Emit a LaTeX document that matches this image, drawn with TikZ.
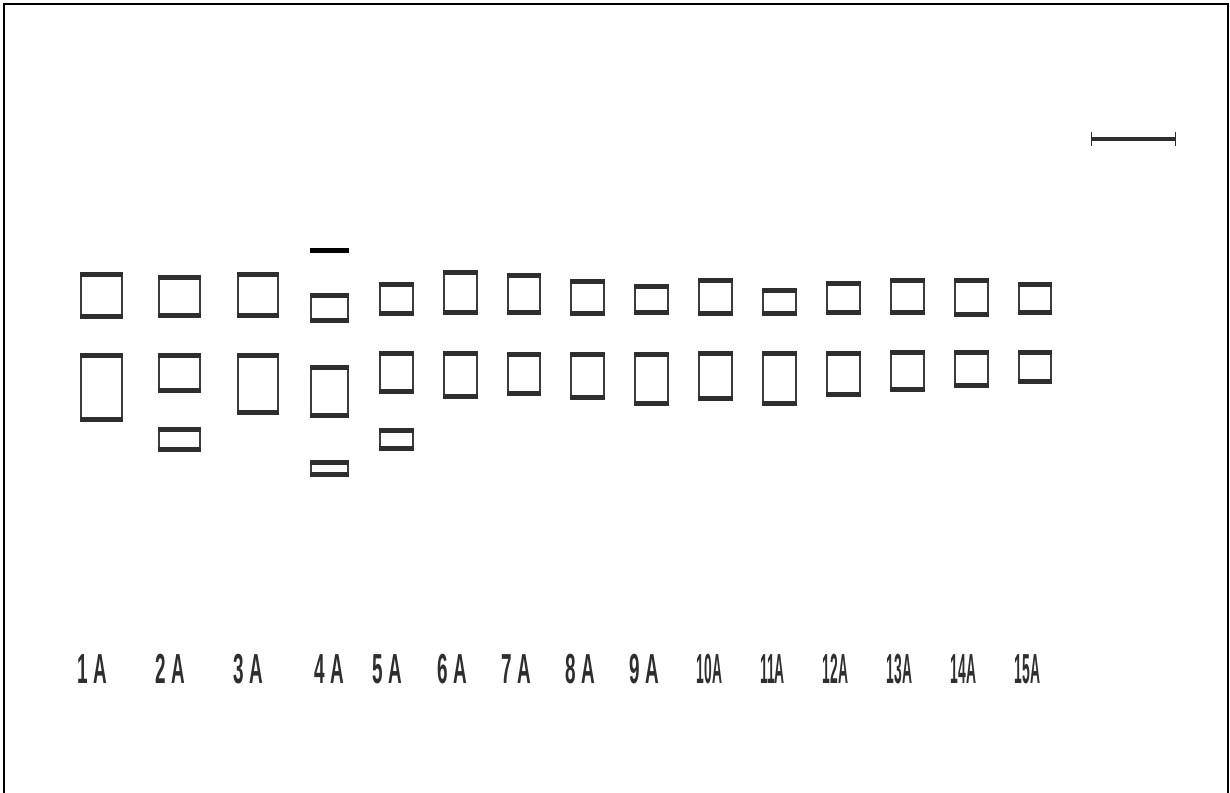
\documentclass[tikz,border=0pt]{standalone}
\usepackage{fontspec}
\setmainfont{Liberation Sans}
\usepackage{tikz}
\usepackage{xcolor}
\definecolor{gelink}{HTML}{2E2E2E}
\definecolor{gelside}{HTML}{3C3C3C}
\newcommand{\lanefont}{\fontsize{42}{42}\selectfont\bfseries}
% one band: outer box x1,y1,x2,y2 (pixels, y down)
\newcommand{\gelband}[4]{%
    \draw[bandside] (#1+1.2,#2+2.3) rectangle (#3-1.2,#4-2.3);
    \draw[bandedge] (#1,#2+2.3) -- (#3,#2+2.3);
    \draw[bandedge] (#1,#4-2.3) -- (#3,#4-2.3);
}

\begin{document}
\begin{tikzpicture}[x=1pt, y=-1pt,
    bandside/.style={draw=gelside, line width=2.2pt},
    bandedge/.style={draw=gelink, line width=4.6pt},
    lanelabel/.style={font=\lanefont, text=gelink, inner sep=0pt, xscale=0.45},
    lanelabelw/.style={font=\lanefont, text=gelink, inner sep=0pt, xscale=0.33}]
    \useasboundingbox (0,0) rectangle (1230,792);

    % Outer frame
    \draw[line width=2.5pt, black] (4,795) -- (4,4) -- (1228,4) -- (1228,795);

    % Scale bar
    \draw[line width=3.2pt, gelink] (1091,139) -- (1175,139);
    \draw[line width=1pt, gelink] (1091,132) -- (1091,146);
    \draw[line width=1pt, gelink] (1175,132) -- (1175,146);

    % Lane 1
    \gelband{80}{272}{123}{319}
    \gelband{80}{353}{123}{422}
    % Lane 2
    \gelband{158}{275}{201}{318}
    \gelband{158}{353}{201}{393}
    \gelband{158}{427}{201}{452}
    % Lane 3
    \gelband{237}{272}{279}{318}
    \gelband{237}{353}{279}{415}
    % Lane 4
    \draw[line width=5pt, black] (310,250) -- (349,250);
    \gelband{310}{293}{349}{323}
    \gelband{310}{365}{349}{418}
    \gelband{310}{460}{349}{477}
    % Lane 5
    \gelband{379}{282}{414}{316}
    \gelband{379}{351}{414}{394}
    \gelband{379}{428}{414}{451}
    % Lane 6
    \gelband{443}{270}{478}{315}
    \gelband{443}{351}{478}{399}
    % Lane 7
    \gelband{507}{273}{541}{315}
    \gelband{507}{352}{541}{396}
    % Lane 8
    \gelband{570}{279}{605}{316}
    \gelband{570}{352}{605}{400}
    % Lane 9
    \gelband{634}{284}{669}{315}
    \gelband{634}{352}{669}{406}
    % Lane 10
    \gelband{698}{278}{733}{316}
    \gelband{698}{351}{733}{401}
    % Lane 11
    \gelband{762}{288}{797}{316}
    \gelband{762}{351}{797}{406}
    % Lane 12
    \gelband{826}{281}{861}{315}
    \gelband{826}{351}{861}{397}
    % Lane 13
    \gelband{890}{278}{925}{315}
    \gelband{890}{350}{925}{392}
    % Lane 14
    \gelband{954}{278}{989}{317}
    \gelband{954}{350}{989}{388}
    % Lane 15
    \gelband{1018}{282}{1052}{315}
    \gelband{1018}{350}{1052}{384}

    % Lane labels
    \node[lanelabel] (l1) at (92.5,669) {1 A};
    \node[lanelabel] (l2) at (170.5,669) {2 A};
    \node[lanelabel] (l3) at (248.5,669) {3 A};
    \node[lanelabel] (l4) at (329.5,669) {4 A};
    \node[lanelabel] (l5) at (387.5,669) {5 A};
    \node[lanelabel] (l6) at (452.5,669) {6 A};
    \node[lanelabel] (l7) at (516.5,669) {7 A};
    \node[lanelabel] (l8) at (580.5,669) {8 A};
    \node[lanelabel] (l9) at (644.5,669) {9 A};
    \node[lanelabelw] (l10) at (709.5,669) {10A};
    \node[lanelabelw] (l11) at (772.5,669) {11A};
    \node[lanelabelw] (l12) at (835.5,669) {12A};
    \node[lanelabelw] (l13) at (899.5,669) {13A};
    \node[lanelabelw] (l14) at (963.5,669) {14A};
    \node[lanelabelw] (l15) at (1027.5,669) {15A};
\end{tikzpicture}
\end{document}
